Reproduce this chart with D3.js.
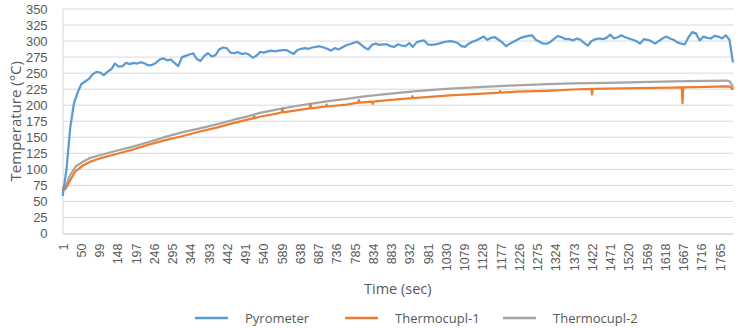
<!DOCTYPE html>
<html><head><meta charset="utf-8">
<script src="https://cdn.jsdelivr.net/npm/d3@7"></script>
<style>body{margin:0;background:#fff}svg{display:block}text{font-family:"Open Sans",sans-serif;fill:#595959}</style>
</head><body><svg id="c" width="738" height="328"></svg>
<script>
// ---- data ----
const yTicks = [0,25,50,75,100,125,150,175,200,225,250,275,300,325,350];
const xTickLabels = [1,50,99,148,197,246,295,344,393,442,491,540,589,638,687,736,785,834,883,932,981,1030,1079,1128,1177,1226,1275,1324,1373,1422,1471,1520,1569,1618,1667,1716,1765];
const seriesNames = ["Pyrometer","Thermocupl-1","Thermocupl-2"];
const seriesColors = ["#5B9BD5","#ED7D31","#A5A5A5"];

const pyroTime = d3.range(1, 1800, 10).concat([1800]);
const pyrometer = [
 60,100,165,203,220,233,237,241,248,252,251,247,252,256,265,260,261,266,264,266,
 265,267,265,262,263,266,271,273,270,271,266,261,275,277,279,281,272,269,277,281,
 276,278,287,290,289,282,281,283,280,281,279,274,277,283,282,284,285,284,285,286,
 286,283,280,286,288,289,288,290,291,292,290,288,285,289,287,290,
 293,295,297,299,295,290,287,294,296,294,295,295,292,291,295,293,292,297,291,298,
 300,301,295,294,295,296,298,299,300,299,297,292,291,296,299,301,304,307,302,305,
 306,302,298,292,296,299,302,305,307,308,309,302,299,296,
 296,299,304,308,306,303,303,301,304,302,297,293,300,303,304,303,305,310,304,306,
 309,306,304,302,300,296,303,302,300,296,300,304,307,304,302,298,296,295,306,314,
 312,301,307,305,304,308,307,304,309,302,268];

const tc1Time = [1,8,20,35,55,75,100,145,190,234,279,324,369,414,458,500,513,515,517,530,575,589,591,593,619,664,666,668,707,709,711,763,794,796,798,831,833,835,861,938,940,942,1040,1130,1173,1175,1177,1219,1300,1371,1420,1422,1424,1461,1550,1640,1663,1665,1667,1729,1783,1792,1800];
const thermocupl1 = [68,69,82,97,106,112,117,124,131,139,146,152,159,165,172,178,180,183,180,182,187,189,195,189,191,195,202,195,198,201,198,201,204,208,204,205.5,202,205.5,207,211,214,211,215.5,218,219.5,222,219.5,221,222.5,224.5,225.3,217,225.3,226,226.8,227.6,228,203,228,228.6,229.5,229,225];

const tc2Time = [1,8,20,35,55,75,100,145,190,234,279,324,369,414,458,500,530,575,619,665,709,763,800,861,950,1040,1130,1219,1300,1371,1461,1550,1640,1729,1783,1792,1800];
const thermocupl2 = [72,72,90,104,112,118,122,129,135.5,143,151,158,164,170,177,183,188,193,198,202,206,210,213,217,222,226,228.6,231,232.8,234,235,236,237,238,238.5,237,229];

// ---- chart ----
const svg = d3.select("#c");
const L = 62.6, R = 733, T = 9, B = 233.5;
const x = d3.scaleLinear().domain([0.5, 1800.5]).range([L, R]);
const y = d3.scaleLinear().domain([0, 350]).range([B, T]);
const tickFont = '"Liberation Sans",Arial,sans-serif';

// gridlines
svg.append("g").selectAll("line").data(yTicks.filter(d=>d>0)).join("line")
  .attr("x1", L).attr("x2", R).attr("y1", d=>y(d)).attr("y2", d=>y(d))
  .attr("stroke", "#d9d9d9").attr("stroke-width", 1);

// y axis
const yAxis = svg.append("g").attr("transform", `translate(${L},0)`)
  .call(d3.axisLeft(y).tickValues(yTicks).tickSize(0).tickPadding(15));
yAxis.select(".domain").attr("stroke", "#d9d9d9");
yAxis.selectAll("text").style("font-size", "13px").style("font-family", tickFont).attr("fill", "#595959");

// x axis
const xAxis = svg.append("g").attr("transform", `translate(0,${B})`)
  .call(d3.axisBottom(x).tickValues(xTickLabels).tickSize(0).tickFormat(d3.format("d")));
xAxis.select(".domain").attr("stroke", "#bfbfbf");
xAxis.selectAll("text")
  .style("font-size", "12.5px").style("font-family", tickFont).attr("fill", "#595959")
  .attr("transform", "rotate(-90)")
  .attr("text-anchor", "end").attr("x", -10).attr("y", 0).attr("dy", "0.35em");

// lines
const line = d3.line().x(d=>x(d[0])).y(d=>y(d[1]));
const data = [
  d3.zip(pyroTime, pyrometer),
  d3.zip(tc1Time, thermocupl1),
  d3.zip(tc2Time, thermocupl2)
];
[2,1,0].forEach(i => {
  svg.append("path").datum(data[i]).attr("d", line)
    .attr("fill", "none").attr("stroke", seriesColors[i])
    .attr("stroke-width", 2.25).attr("stroke-linejoin", "round").attr("stroke-linecap", "round");
});

// axis titles
svg.append("text").attr("transform", `translate(16,${(T+B)/2}) rotate(-90)`)
  .attr("text-anchor", "middle").attr("dy", "0.35em")
  .style("font-size", "15px").text("Temperature (°C)");
svg.append("text").attr("x", (L+R)/2).attr("y", 294)
  .attr("text-anchor", "middle").style("font-size", "14.5px").text("Time (sec)");

// legend
const legX = [195, 345, 503];
const lg = svg.append("g");
seriesNames.forEach((n, i) => {
  lg.append("line").attr("x1", legX[i]).attr("x2", legX[i]+33).attr("y1", 318).attr("y2", 318)
    .attr("stroke", seriesColors[i]).attr("stroke-width", 2.5);
  lg.append("text").attr("x", legX[i]+50).attr("y", 318).attr("dy", "0.35em")
    .style("font-size", "13px").text(n);
});
</script></body></html>
